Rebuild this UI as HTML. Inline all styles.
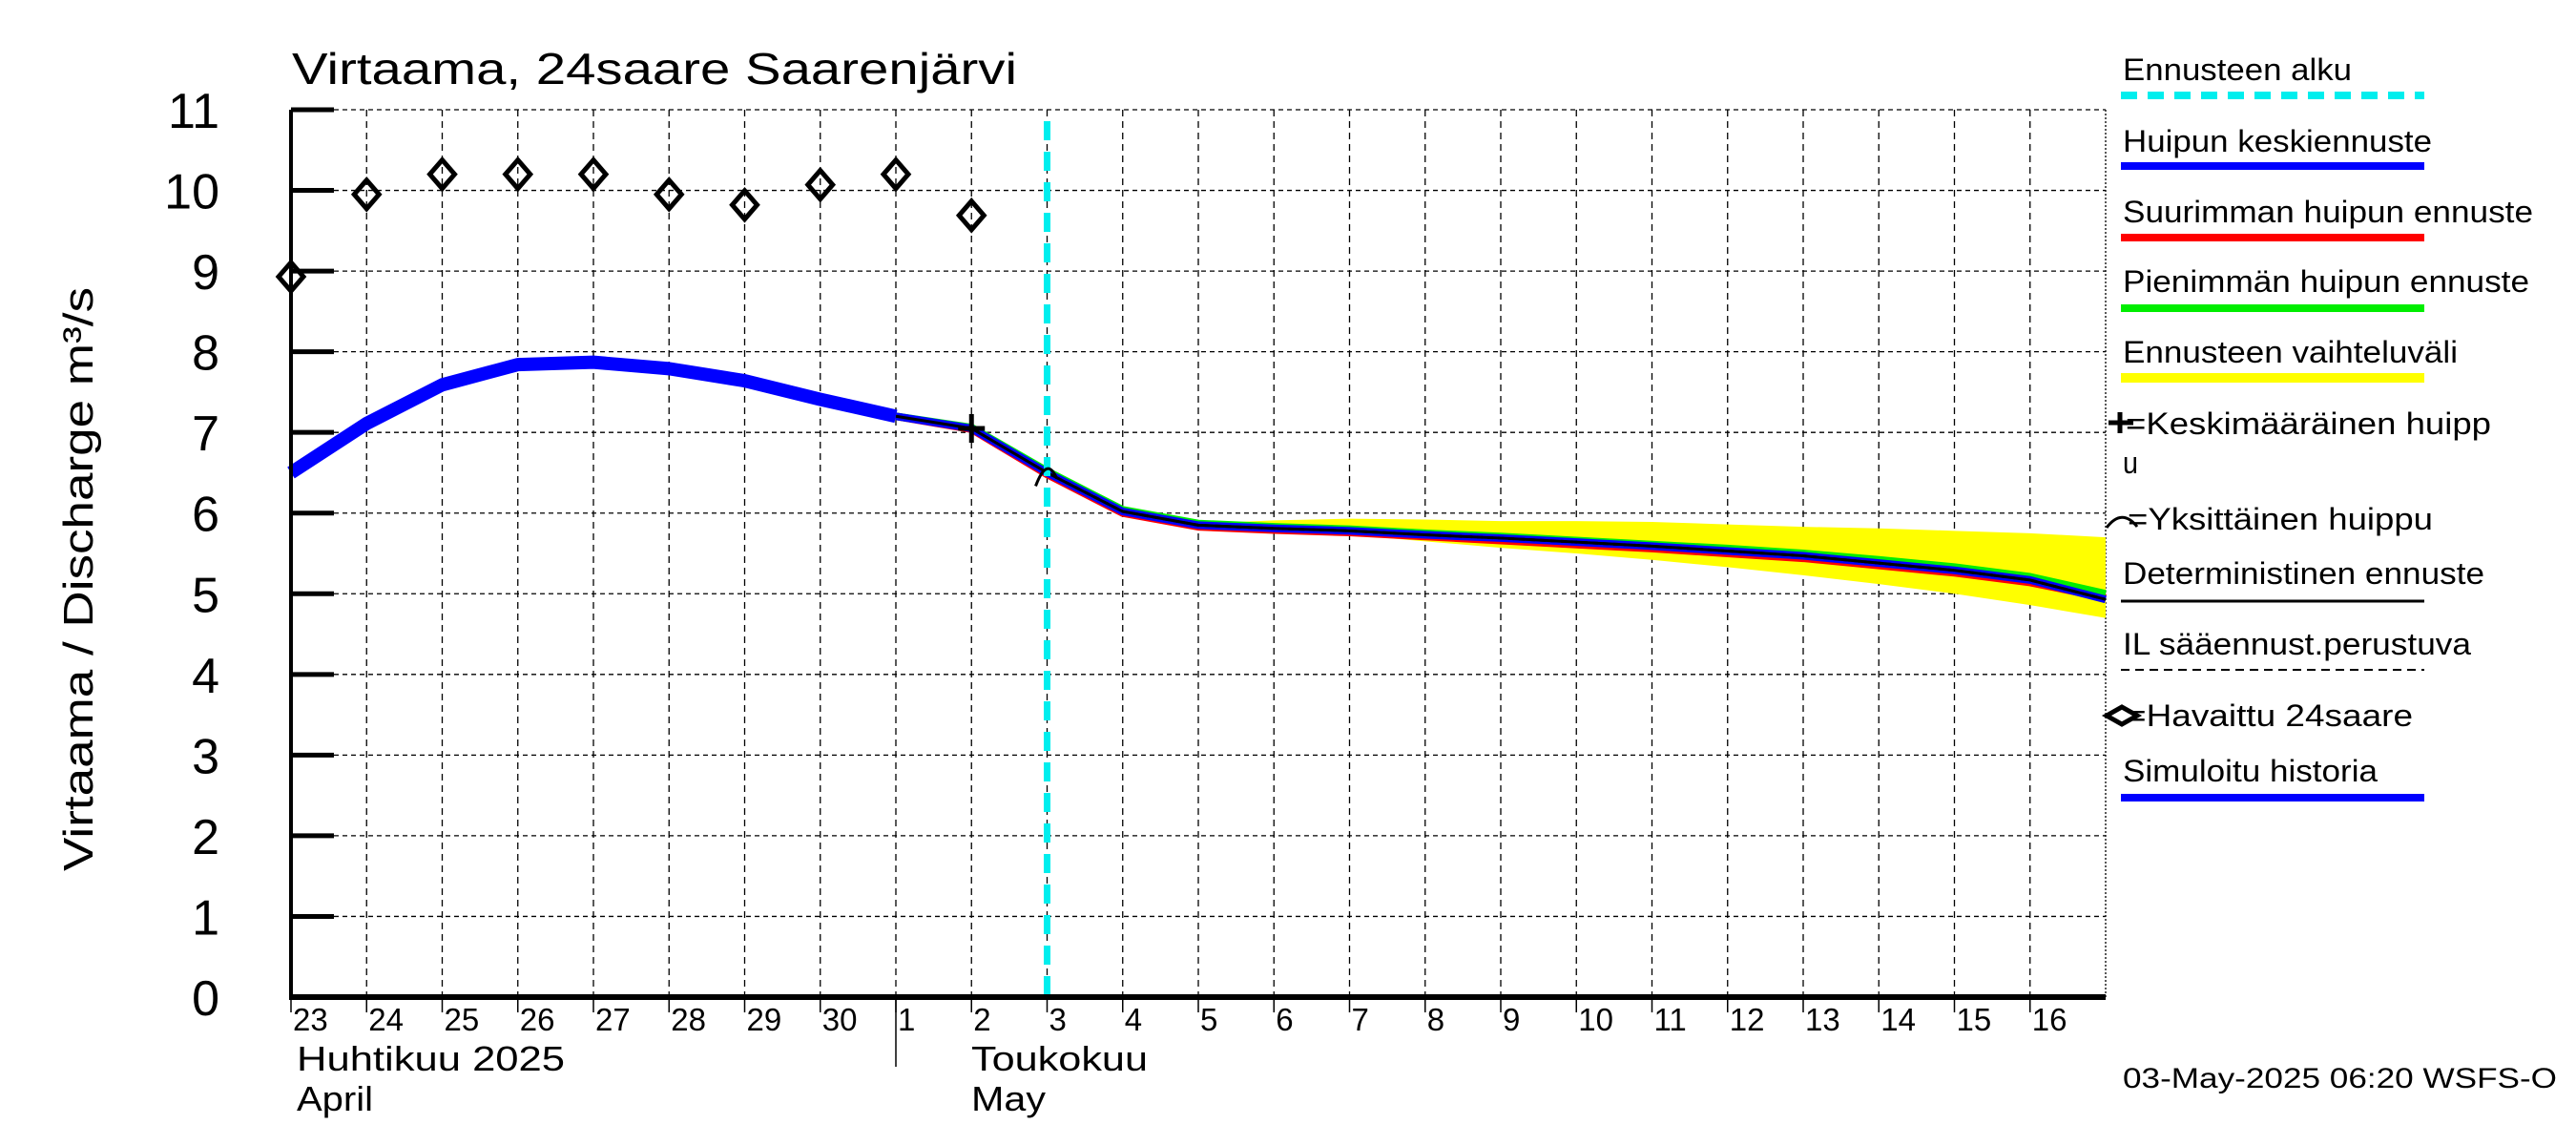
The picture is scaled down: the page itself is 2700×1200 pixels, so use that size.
<!DOCTYPE html>
<html><head><meta charset="utf-8">
<style>
html,body{margin:0;padding:0;background:#fff;}
svg{display:block;font-family:"Liberation Sans",sans-serif;}
</style></head>
<body>
<svg id="chart" width="2700" height="1200" viewBox="0 0 2700 1200" xmlns="http://www.w3.org/2000/svg">
<rect x="0" y="0" width="2700" height="1200" fill="#fff"/>
<text x="306" y="88" font-size="46" textLength="760" lengthAdjust="spacingAndGlyphs">Virtaama, 24saare Saarenjärvi</text>
<text transform="translate(97,913) rotate(-90)" font-size="44" textLength="612" lengthAdjust="spacingAndGlyphs">Virtaama / Discharge   m³/s</text>
<g id="grid"></g>
<g id="series"></g>
<g id="axes"></g>
<g id="legend"></g>
<text x="2225" y="1140" font-size="30" textLength="455" lengthAdjust="spacingAndGlyphs">03-May-2025 06:20 WSFS-O</text>
</svg>
<script>
const dayLabels = ["23","24","25","26","27","28","29","30","1","2","3","4","5","6","7","8","9","10","11","12","13","14","15","16"];
const yTicks = [0,1,2,3,4,5,6,7,8,9,10,11];
const obsDays = [0,1,2,3,4,5,6,7,8,9];
const obsValues = [8.93,9.95,10.2,10.2,10.2,9.95,9.82,10.07,10.2,9.69];
const simDays = [0,1,2,3,4,5,6,7,8];
const simValues = [6.5,7.11,7.59,7.84,7.87,7.79,7.64,7.41,7.2];
const fcDays = [8,9,10,11,12,13,14,15,16,17,18,19,20,21,22,23,24];
const meanValues = [7.2,7.05,6.5,6.02,5.85,5.81,5.78,5.73,5.69,5.64,5.59,5.53,5.47,5.38,5.29,5.17,4.93];
const maxPeakValues = [7.2,7.04,6.48,6.0,5.83,5.79,5.76,5.71,5.66,5.61,5.56,5.5,5.44,5.35,5.26,5.14,4.95];
const minPeakValues = [7.2,7.06,6.52,6.04,5.87,5.83,5.8,5.75,5.71,5.66,5.61,5.56,5.5,5.42,5.33,5.21,5.0];
const bandDays = [12,13,14,15,16,17,18,19,20,21,22,23,24];
const bandUpper = [5.87,5.91,5.93,5.92,5.9,5.9,5.89,5.86,5.83,5.81,5.78,5.75,5.7];
const bandLower = [5.83,5.78,5.73,5.65,5.57,5.5,5.42,5.33,5.23,5.12,5.0,4.86,4.7];
const forecastStartDay = 10;
const meanPeakDay = 9, meanPeakValue = 7.05;
const singlePeakDay = 10, singlePeakValue = 6.5;

const NS = "http://www.w3.org/2000/svg";
const X0 = 305, X1 = 2207, Y0 = 1045, Y1 = 115, DAYS = 24, YMAX = 11;
const sx = d => X0 + d * (X1 - X0) / DAYS;
const sy = v => Y0 - v * (Y0 - Y1) / YMAX;
function mk(tag, attrs, parent) {
  const e = document.createElementNS(NS, tag);
  for (const k in attrs) e.setAttribute(k, attrs[k]);
  parent.appendChild(e);
  return e;
}
const grid = document.getElementById('grid');
const series = document.getElementById('series');
const axes = document.getElementById('axes');
const legend = document.getElementById('legend');

// grid
yTicks.forEach(v => {
  if (v === 0) return;
  const l = mk('line', {x1: X0, x2: X1, y1: sy(v), y2: sy(v), stroke: '#000', 'stroke-width': 1.3, 'stroke-dasharray': '5,4'}, grid);
  
  
});
dayLabels.forEach((lab, i) => {
  if (i === 0) return;
  const l = mk('line', {x1: sx(i), x2: sx(i), y1: Y1, y2: Y0, stroke: '#000', 'stroke-width': 1.3, 'stroke-dasharray': '7,5'}, grid);
  
  
});
const rb = mk('line', {x1: X1, x2: X1, y1: Y1, y2: Y0, stroke: '#000', 'stroke-width': 1.3, 'stroke-dasharray': '2,2'}, grid);



// band
let bp = bandDays.map((d, i) => sx(d) + ',' + sy(bandUpper[i]));
for (let i = bandDays.length - 1; i >= 0; i--) bp.push(sx(bandDays[i]) + ',' + sy(bandLower[i]));
const band = mk('polygon', {points: bp.join(' '), fill: '#ffff00'}, series);



function poly(days, vals, color, w, name, dash) {
  const a = {points: days.map((d, i) => sx(d) + ',' + sy(vals[i])).join(' '), fill: 'none', stroke: color, 'stroke-width': w, 'stroke-linejoin': 'round'};
  if (dash) a['stroke-dasharray'] = dash;
  const p = mk('polyline', a, series);
  
  
}
poly(simDays, simValues, '#0000ff', 14, 'simulated-history-line');
poly(fcDays, maxPeakValues, '#ff0000', 8, 'max-peak-forecast-line');
poly(fcDays, minPeakValues, '#00ee00', 8, 'min-peak-forecast-line');
poly(fcDays, meanValues, '#0000ff', 8, 'mean-peak-forecast-line');
poly(fcDays, meanValues, '#000', 3, 'deterministic-forecast-line');
poly(fcDays.slice(2), meanValues.slice(2), '#000', 3, 'weather-based-forecast-line', '6,5');

// forecast start
const fs = mk('line', {x1: sx(forecastStartDay), x2: sx(forecastStartDay), y1: Y1 + 12, y2: Y0, stroke: '#00eeee', 'stroke-width': 7, 'stroke-dasharray': '20,12'}, series);



// markers
obsDays.forEach((d, i) => {
  const x = sx(d), y = sy(obsValues[i]);
  const m = mk('polygon', {points: `${x},${y-15} ${x+13},${y} ${x},${y+15} ${x-13},${y}`, fill: 'none', stroke: '#000', 'stroke-width': 5}, series);
  
  
});
{
  const x = sx(meanPeakDay), y = sy(meanPeakValue);
  const c = mk('path', {d: `M${x-14},${y}H${x+14}M${x},${y-15}V${y+15}`, stroke: '#000', 'stroke-width': 5, fill: 'none'}, series);
  
  
  const x2 = sx(singlePeakDay), y2 = sy(singlePeakValue);
  const a = mk('path', {d: `M${x2-12},${y2+14} Q${x2},${y2-18} ${x2+10},${y2+6}`, stroke: '#000', 'stroke-width': 3, fill: 'none'}, series);
  
  
}

// axes
const la = mk('line', {x1: X0, x2: X0, y1: Y1, y2: Y0 + 3, stroke: '#000', 'stroke-width': 4}, axes);


const ba = mk('line', {x1: X0 - 2, x2: X1, y1: Y0, y2: Y0, stroke: '#000', 'stroke-width': 6}, axes);


yTicks.forEach(v => {
  const t = mk('line', {x1: X0, x2: X0 + 45, y1: sy(v), y2: sy(v), stroke: '#000', 'stroke-width': 5}, axes);
  
  
  const tx = mk('text', {x: 230, y: sy(v) + 19, 'font-size': 52, 'text-anchor': 'end'}, axes);
  
  
  tx.textContent = String(v);
});
dayLabels.forEach((lab, i) => {
  const t = mk('line', {x1: sx(i), x2: sx(i), y1: Y0, y2: Y0 + 16, stroke: '#000', 'stroke-width': 1.5}, axes);
  
  
  const tx = mk('text', {x: sx(i) + 2, y: 1080, 'font-size': 33}, axes);
  
  
  tx.textContent = lab;
});
const sep = mk('line', {x1: sx(8), x2: sx(8), y1: Y0, y2: 1118, stroke: '#000', 'stroke-width': 1.5}, axes);


[[311, 1122, 'Huhtikuu  2025', 281], [311, 1164, 'April', 80], [1018, 1122, 'Toukokuu', 185], [1018, 1164, 'May', 78]].forEach(m => {
  const tx = mk('text', {x: m[0], y: m[1], 'font-size': 36, textLength: m[3], lengthAdjust: 'spacingAndGlyphs', 'xml:space': 'preserve'}, axes);
  
  
  tx.textContent = m[2];
});

// legend
const LX0 = 2223, LX1 = 2541;
const legendItems = [
  {t: 'Ennusteen alku', ty: 84, w: 240, ly: 100, c: '#00eeee', lw: 8, dash: '17,11', name: 'legend-forecast-start'},
  {t: 'Huipun keskiennuste', ty: 159, w: 324, ly: 174, c: '#0000ff', lw: 8, name: 'legend-mean-peak'},
  {t: 'Suurimman huipun ennuste', ty: 233, w: 430, ly: 249, c: '#ff0000', lw: 8, name: 'legend-max-peak'},
  {t: 'Pienimmän huipun ennuste', ty: 306, w: 426, ly: 323, c: '#00ee00', lw: 8, name: 'legend-min-peak'},
  {t: 'Ennusteen vaihteluväli', ty: 380, w: 351, ly: 396, c: '#ffff00', lw: 10, name: 'legend-range'},
  {t: '=Keskimääräinen huipp', ty: 455, w: 383, x: 2228, name: 'legend-mean-peak-marker'},
  {t: 'u', ty: 496, w: 16, name: 'legend-mean-peak-marker-wrap'},
  {t: '=Yksittäinen huippu', ty: 555, w: 320, x: 2230, name: 'legend-single-peak-marker'},
  {t: 'Deterministinen ennuste', ty: 612, w: 379, ly: 630, c: '#000', lw: 3, name: 'legend-deterministic'},
  {t: 'IL sääennust.perustuva', ty: 686, w: 365, ly: 702, c: '#000', lw: 2, dash: '9,6', name: 'legend-weather-based'},
  {t: '=Havaittu 24saare', ty: 761, w: 301, x: 2228, name: 'legend-observed'},
  {t: 'Simuloitu historia', ty: 819, w: 267, ly: 836, c: '#0000ff', lw: 8, name: 'legend-simulated'}
];
legendItems.forEach(it => {
  const tx = mk('text', {x: it.x || 2225, y: it.ty, 'font-size': 32, textLength: it.w, lengthAdjust: 'spacingAndGlyphs'}, legend);
  
  
  tx.textContent = it.t;
  if (it.ly) {
    const a = {x1: LX0, x2: LX1, y1: it.ly, y2: it.ly, stroke: it.c, 'stroke-width': it.lw};
    if (it.dash) a['stroke-dasharray'] = it.dash;
    const l = mk('line', a, legend);
    
    
  }
});
const lc = mk('path', {d: 'M2210,443H2236M2222,432V454', stroke: '#000', 'stroke-width': 5, fill: 'none'}, legend);


const larc = mk('path', {d: 'M2208,553 Q2224,532 2240,552', stroke: '#000', 'stroke-width': 3, fill: 'none'}, legend);


const ld = mk('polygon', {points: '2208,750 2224,741 2240,750 2224,759', fill: 'none', stroke: '#000', 'stroke-width': 5}, legend);


</script>
</body></html>
